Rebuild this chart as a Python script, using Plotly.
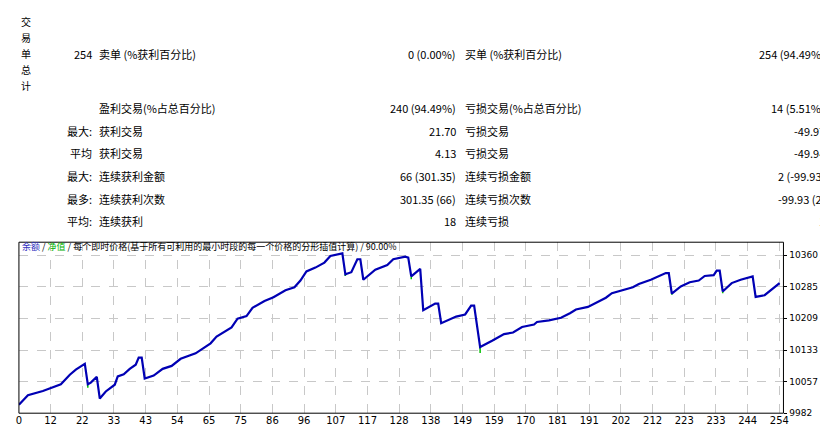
import plotly.graph_objects as go

W, H = 828, 426
FONT = "Noto Sans CJK SC"

# ---- data ----
trade_idx = [0, 3, 8, 14, 17, 19, 22, 23, 24, 26, 27, 29, 32, 33, 35, 37, 39, 40, 41, 42, 45, 48, 51, 54, 59,
             64, 66, 71, 73, 76, 78, 82, 85, 89, 92, 94, 96, 99, 102, 104, 108, 109, 111, 113, 114, 115, 119,
             123, 125, 129, 130, 131, 134, 135, 139, 140, 141, 146, 149, 151, 152, 154, 158, 162, 165, 168,
             172, 173, 177, 181, 184, 186, 190, 193, 196, 198, 205, 207, 211, 216, 217, 218, 221, 224, 227,
             229, 232, 233, 234, 235, 238, 241, 245, 246, 249, 254]
balance = [10002, 10025, 10035, 10051, 10074, 10086, 10100, 10051, 10055, 10069, 10017, 10034, 10050, 10070,
           10075, 10088, 10098, 10115, 10115, 10065, 10072, 10088, 10095, 10112, 10125, 10149, 10165, 10187,
           10208, 10214, 10234, 10250, 10259, 10276, 10283, 10299, 10321, 10330, 10342, 10358, 10364, 10314,
           10319, 10350, 10350, 10301, 10325, 10336, 10350, 10356, 10354, 10309, 10327, 10228, 10244, 10244,
           10197, 10213, 10218, 10239, 10239, 10140, 10155, 10171, 10175, 10188, 10194, 10200, 10204, 10210,
           10221, 10230, 10236, 10248, 10258, 10269, 10283, 10291, 10301, 10317, 10317, 10268, 10285, 10295,
           10299, 10310, 10312, 10323, 10323, 10273, 10293, 10301, 10309, 10260, 10264, 10293]
equity_dip_idx = [23, 109, 131, 154, 218, 235]
equity_dip_val = [10043, 10310, 10302, 10126, 10265, 10269]

y_ticks = [9982, 10057, 10133, 10209, 10285, 10360]
x_tick_labels = ["0", "12", "22", "33", "43", "54", "65", "75", "86", "96", "107", "117", "128", "138",
                 "149", "159", "170", "181", "191", "202", "212", "223", "233", "244", "254"]
x_step = 10.58

# table rows: (y px, left label, name1, value1, name2, value2)
rows = [
    (47, "254", "卖单 (%获利百分比)", "0 (0.00%)", "买单 (%获利百分比)", "254 (94.49%)"),
    (101, "", "盈利交易(%占总百分比)", "240 (94.49%)", "亏损交易(%占总百分比)", "14 (5.51%)"),
    (124, "最大:", "获利交易", "21.70", "亏损交易", "-49.97"),
    (147, "平均", "获利交易", "4.13", "亏损交易", "-49.94"),
    (170, "最大:", "连续获利金额", "66 (301.35)", "连续亏损金额", "2 (-99.93)"),
    (193, "最多:", "连续获利次数", "301.35 (66)", "连续亏损次数", "-99.93 (2)"),
    (216, "平均:", "连续获利", "18", "连续亏损", "1"),
]
side_title = "交易单总计"

# ---- figure ----
L, R, T, B = 8, 780, 237, 410
fig = go.Figure()

for i, v in zip(equity_dip_idx, equity_dip_val):
    j = trade_idx.index(i)
    fig.add_trace(go.Scatter(x=[i, i], y=[balance[j], v], mode="lines",
                             line=dict(color="#00c000", width=1.5), hoverinfo="skip"))
fig.add_trace(go.Scatter(x=trade_idx, y=balance, mode="lines",
                         line=dict(color="#0000b4", width=2.2)))

x_max = (R - L) / 3.024
y_min = y_ticks[0]
y_max = y_min + (B - T) * (y_ticks[-1] - y_ticks[0]) / (B - 250)

fig.update_layout(
    width=W, height=H, margin=dict(l=0, r=0, t=0, b=0),
    paper_bgcolor="white", plot_bgcolor="white", showlegend=False,
    font=dict(family=FONT, size=11, color="black"),
    xaxis=dict(domain=[L / W, R / W], range=[0, x_max], tickvals=[k * x_step for k in range(len(x_tick_labels))],
               ticktext=x_tick_labels, showgrid=True, gridcolor="#c8c8c8", griddash="dash", gridwidth=1,
               zeroline=False, showline=False, ticks="", tickfont=dict(family="DejaVu Sans", size=10)),
    yaxis=dict(domain=[1 - B / H, 1 - T / H], range=[y_min, y_max], side="right", tickvals=y_ticks,
               ticktext=[str(v) for v in y_ticks],
               showgrid=True, gridcolor="#c8c8c8", griddash="dash", gridwidth=1, zeroline=False,
               showline=False, ticks="outside", ticklen=3, tickcolor="black",
               tickfont=dict(family="DejaVu Sans", size=9)),
)
fig.add_shape(type="rect", xref="paper", yref="paper", x0=L / W, x1=R / W, y0=1 - B / H, y1=1 - T / H,
              line=dict(color="black", width=1))

def ann(text, xpx, ypx, anchor="left", size=11, color="black", family=FONT):
    fig.add_annotation(text=text, xref="paper", yref="paper", x=xpx / W, y=1 - ypx / H,
                       xanchor=anchor, yanchor="middle", showarrow=False,
                       font=dict(size=size, color=color, family=family))

for k, ch in enumerate(side_title):
    ann(ch, 15, 14 + k * 16, anchor="center", size=10)
for y, a, n1, v1, n2, v2 in rows:
    if a:
        ann(a, 84, y, anchor="right")
    ann(n1, 87, y)
    ann(v1, 451, y, anchor="right")
    ann(n2, 456, y)
    ann(v2, 824, y, anchor="right")

ann('<span style="color:#3030c0">余额</span> / <span style="color:#00b000">净值</span> / '
    '每个即时价格(基于所有可利用的最小时段的每一个价格的分形插值计算) / 90.00%', 9, 241, size=9)

fig.write_html("out.html")
